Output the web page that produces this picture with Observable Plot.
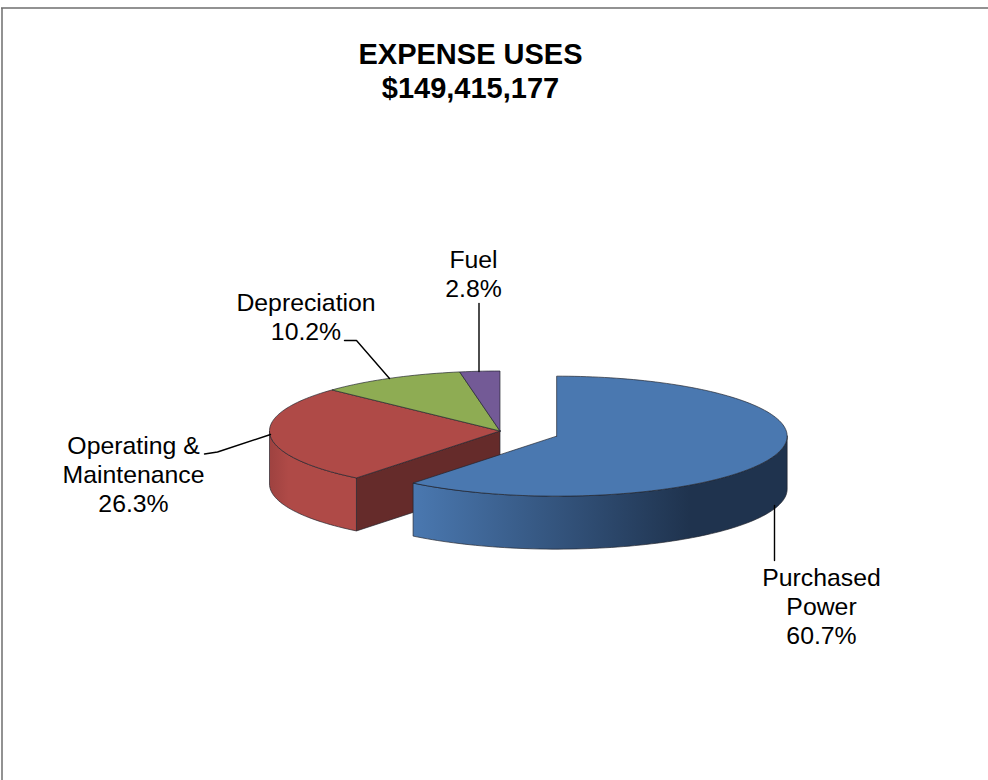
<!DOCTYPE html>
<html>
<head>
<meta charset="utf-8">
<style>html,body{margin:0;padding:0;background:#fff}</style>
<script src="https://cdn.jsdelivr.net/npm/d3@7"></script>
<script src="https://cdn.jsdelivr.net/npm/@observablehq/plot@0.6"></script>
</head>
<body>
<script>
// Data
const categories = ["Purchased Power", "Operating & Maintenance", "Depreciation", "Fuel"];
const shares = [60.7, 26.3, 10.2, 2.8];
const labels = ["Purchased\nPower\n60.7%", "Operating &\nMaintenance\n26.3%", "Depreciation\n10.2%", "Fuel\n2.8%"];
const titleLines = "EXPENSE USES\n$149,415,177";

// Pie geometry
const centre = {x: 499.5, y: 430.5}, rx = 230.5, ry = 60, depth = 53, explode = 60;
const topColors = ["#4a78b0", "#af4a47", "#8eac53", "#735a96"];
const DEG = Math.PI / 180;

// Angles clockwise from 12 o'clock, from the values
let run = 0;
const slices = categories.map((name, i) => {
  const a0 = run * 3.6; run += shares[i]; const a1 = run * 3.6;
  const mid = (a0 + a1) / 2 * DEG;
  const c = i === 0
    ? {x: centre.x + explode * Math.sin(mid), y: centre.y - explode * Math.cos(mid) * ry / rx}
    : centre;
  return {name, a0, a1, c};
});
const rim = (c, a, dy = 0) => ({x: c.x + rx * Math.sin(a * DEG), y: c.y - ry * Math.cos(a * DEG) + dy});
const arc = (c, a0, a1, dy = 0) => {
  const n = Math.max(2, Math.ceil(Math.abs(a1 - a0) / 1.5));
  return d3.range(n + 1).map(k => rim(c, a0 + (a1 - a0) * k / n, dy));
};
const topFace = s => [s.c, ...arc(s.c, s.a0, s.a1), s.c];
const wall = (s, a0, a1) => {
  const pts = [...arc(s.c, a0, a1), ...arc(s.c, a1, a0, depth)];
  return [...pts, pts[0]];
};
const shape = (pts, fill, extra = {}) =>
  Plot.line(pts, {x: "x", y: "y", fill, stroke: "#20242c", strokeWidth: 0.8, strokeOpacity: 0.85, curve: "linear", ...extra});

const [blue, red, green, fuel] = slices;
const p = rim(red.c, red.a0);
const cutFace = [red.c, p, {x: p.x, y: p.y + depth}, {x: red.c.x, y: red.c.y + depth}, red.c];

const leaders = [
  [{x: 774, y: 505}, {x: 774, y: 560}],
  [{x: 204, y: 453.5}, {x: 217, y: 451.5}, {x: 270, y: 434}],
  [{x: 344, y: 340}, {x: 356, y: 340}, {x: 389, y: 378}],
  [{x: 478.5, y: 303}, {x: 478.5, y: 371}]
];
const labelPos = [
  {x: 821, y: 605.5}, {x: 133, y: 473.5}, {x: 305.5, y: 315.5}, {x: 473, y: 273}
];

const defs = () => {
  const s = d3.create("svg:defs");
  const g = (id, stops) => {
    const lg = s.append("linearGradient").attr("id", id).attr("x1", 0).attr("x2", 1).attr("y1", 0).attr("y2", 0);
    stops.forEach(([o, c]) => lg.append("stop").attr("offset", o).attr("stop-color", c));
  };
  g("blueWall", [[0, "#4a78b0"], [0.74, "#1f334e"], [1, "#1f334e"]]);
  g("redWall", [[0, "#9e4240"], [0.22, "#af4a47"], [1, "#af4a47"]]);
  return s.node();
};

const chart = Plot.plot({
  width: 988, height: 780,
  margin: 0,
  x: {domain: [0, 988], range: [0, 988], axis: null},
  y: {domain: [0, 780], range: [0, 780], axis: null},
  style: {background: "#fff", fontFamily: "'Liberation Sans', Arial, sans-serif"},
  marks: [
    defs,
    Plot.ruleX([1.5], {y1: 8, y2: 780, stroke: "#6e6e6e", strokeWidth: 1.5}),
    Plot.ruleY([7.5], {x1: 1, x2: 988, stroke: "#6e6e6e", strokeWidth: 1.5}),
    // red body
    shape(cutFace, "#652b2a"),
    shape(wall(red, red.a0, 270), "url(#redWall)"),
    // tops of the three joined slices
    shape(topFace(red), topColors[1]),
    shape(topFace(green), topColors[2]),
    shape(topFace(fuel), topColors[3]),
    // exploded slice
    shape(wall(blue, 90, blue.a1), "url(#blueWall)"),
    shape(topFace(blue), topColors[0]),
    // leader lines
    ...leaders.map(l => Plot.line(l, {x: "x", y: "y", stroke: "#000", strokeWidth: 1.4, curve: "linear"})),
    // labels
    Plot.text(labels.map((t, i) => ({t, ...labelPos[i]})), {
      x: "x", y: "y", text: "t", fontSize: 24.8, lineHeight: 1.17, fill: "#000", textAnchor: "middle", lineAnchor: "middle"
    }),
    Plot.text([titleLines], {
      x: () => 470, y: () => 69.5, text: d => d, fontSize: 29, fontWeight: "bold", lineHeight: 1.17, fill: "#000", textAnchor: "middle", lineAnchor: "middle"
    })
  ]
});
document.body.append(chart);
</script>
</body>
</html>
